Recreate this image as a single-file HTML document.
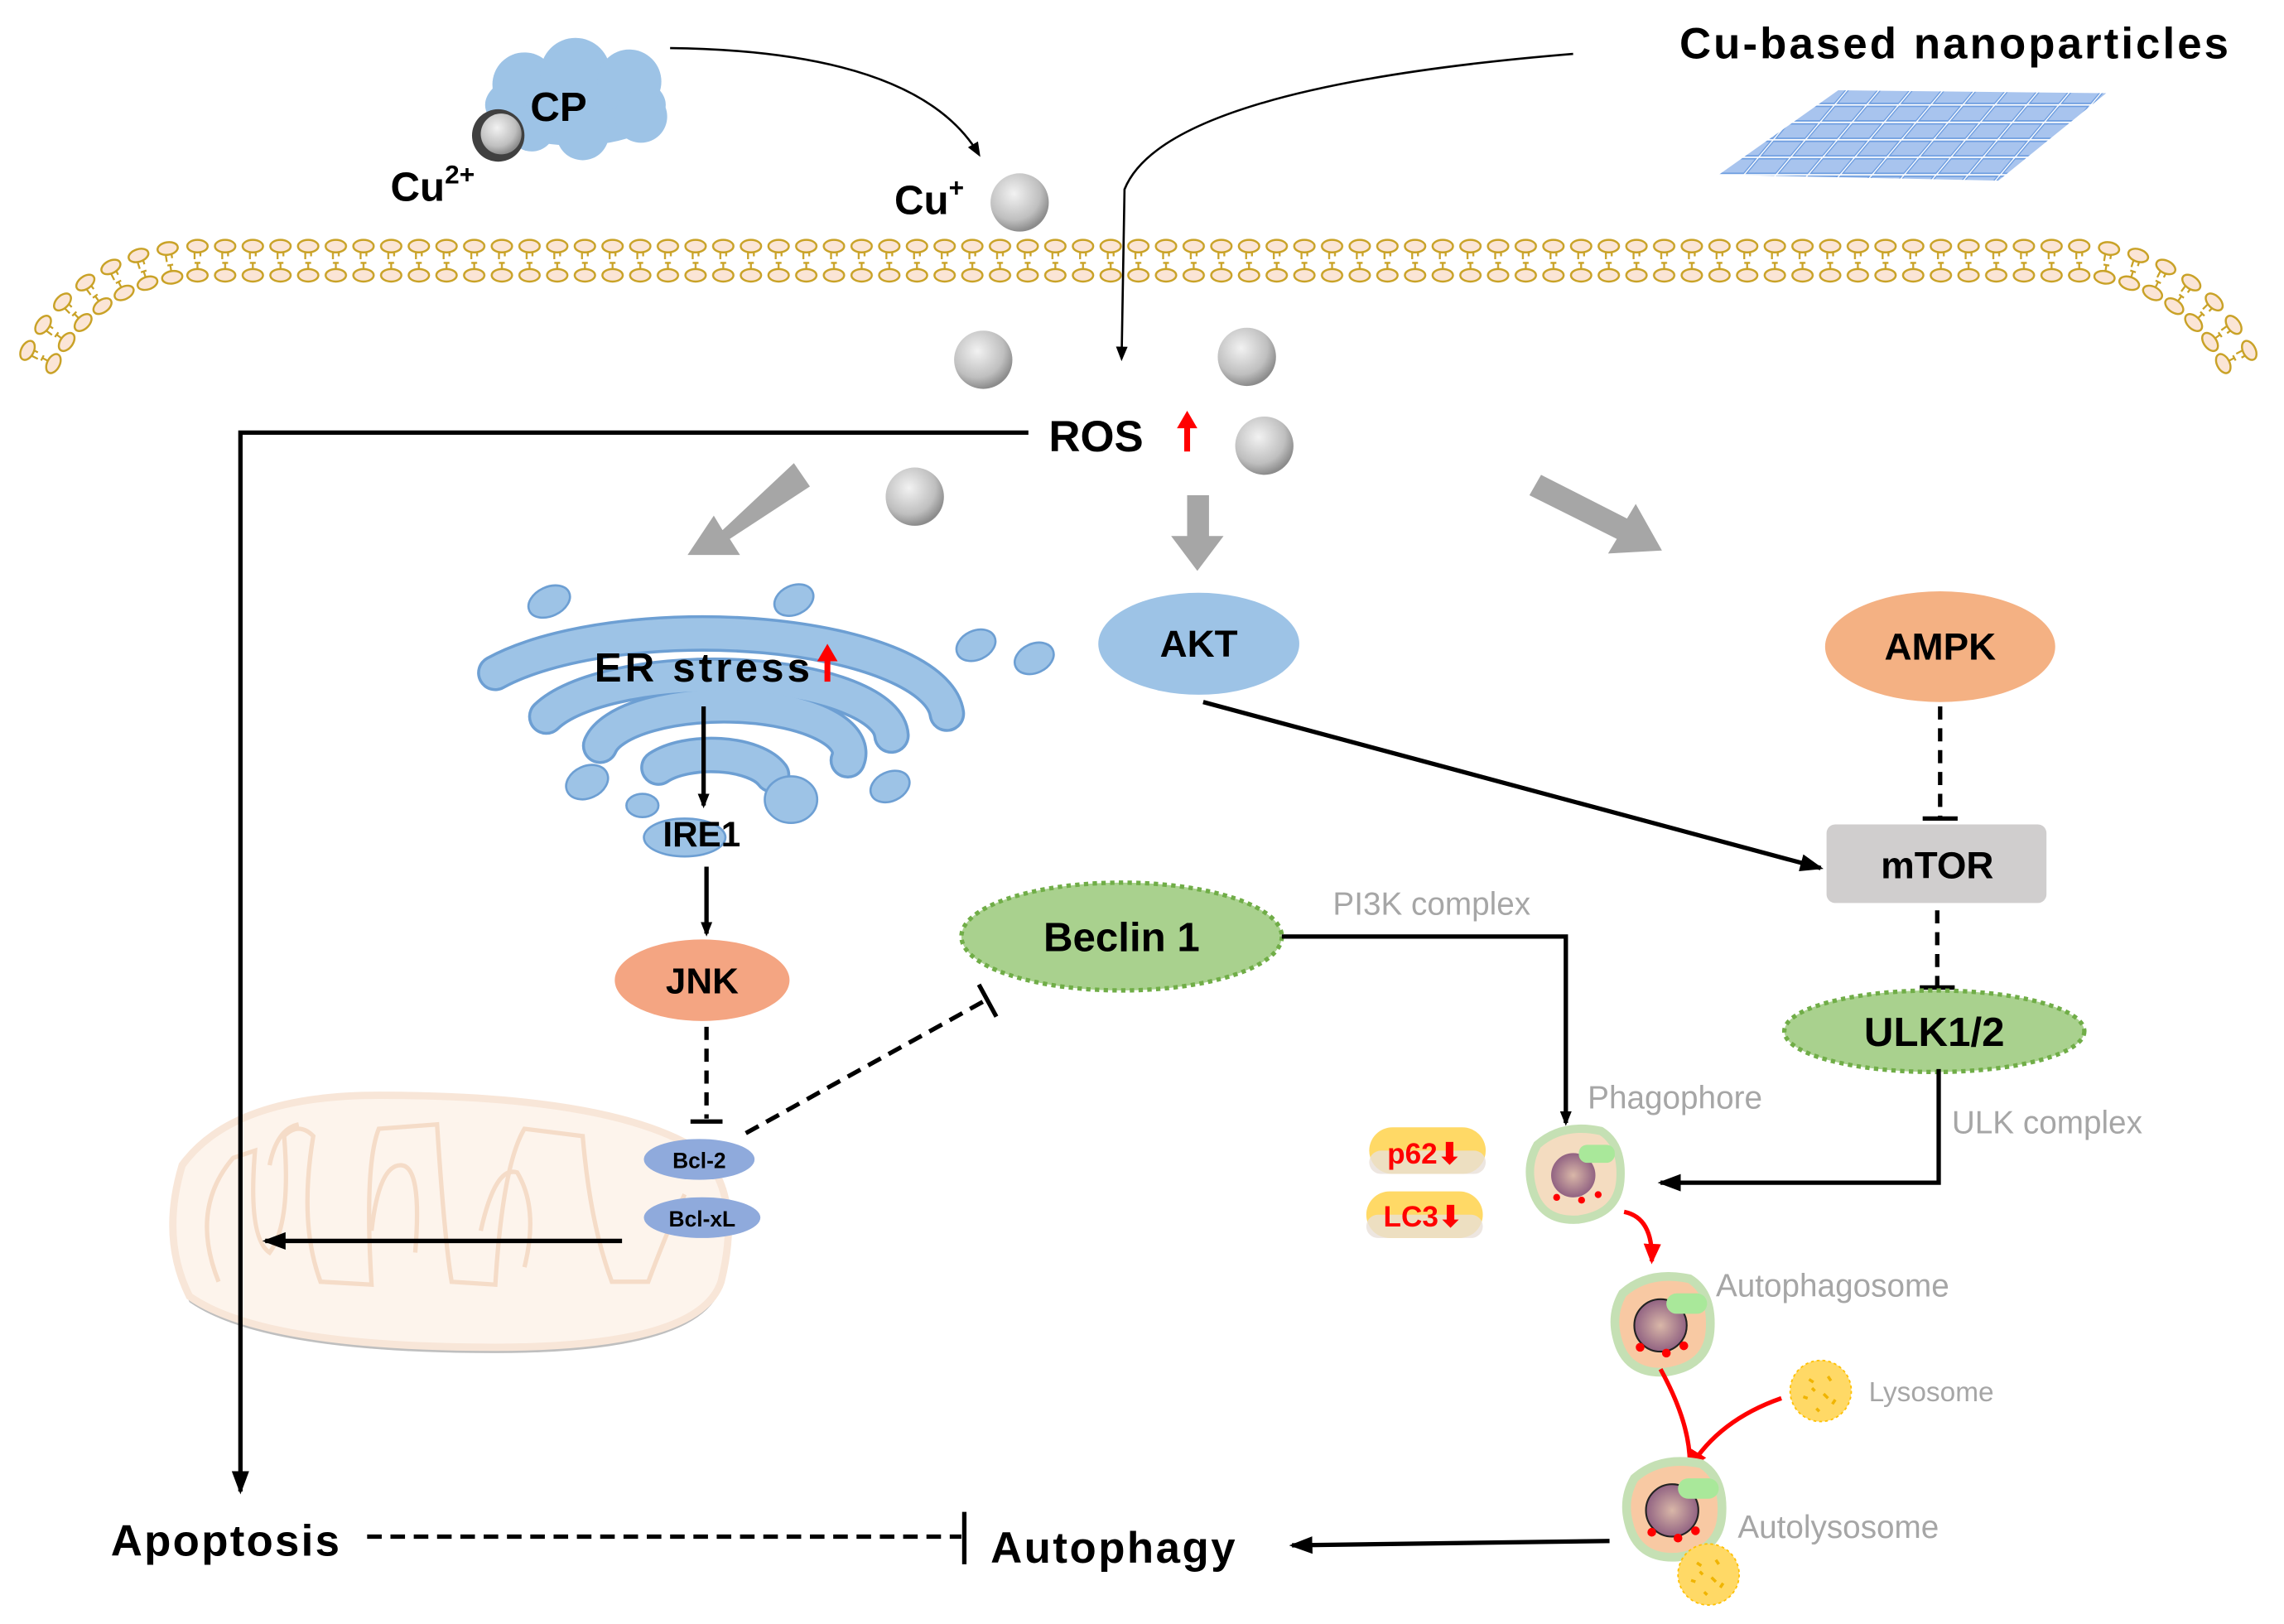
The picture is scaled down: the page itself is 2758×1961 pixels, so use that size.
<!DOCTYPE html>
<html><head><meta charset="utf-8"><style>
html,body{margin:0;padding:0;background:#fff}
svg{display:block}
text{font-family:"Liberation Sans",Arial,sans-serif}
.b{font-weight:bold;fill:#000}
.g{fill:#a6a6a6}
</style></head><body>
<svg width="2758" height="1961" viewBox="0 0 1568 1115" xmlns="http://www.w3.org/2000/svg">
<defs>
<marker id="ah" markerWidth="10" markerHeight="10" refX="8" refY="5" orient="auto" markerUnits="userSpaceOnUse" viewBox="0 0 10 10"><path d="M0,1 L10,5 L0,9 Z" fill="#000"/></marker>
<marker id="ahb" markerWidth="16" markerHeight="16" refX="14" refY="8" orient="auto" markerUnits="userSpaceOnUse" viewBox="0 0 16 16"><path d="M0,2 L16,8 L0,14 Z" fill="#000"/></marker>
<marker id="ahr" markerWidth="14" markerHeight="14" refX="12" refY="7" orient="auto" markerUnits="userSpaceOnUse" viewBox="0 0 14 14"><path d="M0,1 L14,7 L0,13 Z" fill="#f00"/></marker>
<g id="lip">
<ellipse cx="0" cy="-10" rx="7" ry="4.3" fill="#fbe5d6" stroke="#c9a227" stroke-width="1.4"/>
<ellipse cx="0" cy="10" rx="7" ry="4.3" fill="#fbe5d6" stroke="#c9a227" stroke-width="1.4"/>
<path d="M-2,-5.5 V-1 M2,-5.5 V-3 M-2,1.5 H2 M0,1.5 V5.5" stroke="#c9a227" stroke-width="1.3" fill="none"/>
</g>
<pattern id="mem" x="145" y="0" width="19" height="1115" patternUnits="userSpaceOnUse">
<use href="#lip" x="9.5" y="179"/>
</pattern>
<pattern id="hex" x="0" y="0" width="22" height="12" patternUnits="userSpaceOnUse" patternTransform="skewX(-40)">
<rect x="1" y="1" width="20" height="10" fill="#a8c4ee" stroke="#6d9de0" stroke-width="1"/>
</pattern>
<radialGradient id="sph" cx="40%" cy="35%" r="65%"><stop offset="0" stop-color="#f2f2f2"/><stop offset="0.7" stop-color="#bfbfbf"/><stop offset="1" stop-color="#8c8c8c"/></radialGradient>
<radialGradient id="nuc" cx="50%" cy="50%" r="55%"><stop offset="0" stop-color="#d9b7a8"/><stop offset="1" stop-color="#8a5a7e"/></radialGradient>
<g id="cell">
<path d="M-28,-20 Q-10,-36 18,-30 Q34,-20 32,6 Q30,30 2,34 Q-26,36 -32,10 Q-36,-6 -28,-20 Z" fill="#f8c9a3" stroke="#c5e0b4" stroke-width="6"/>
<circle cx="-2" cy="2" r="18" fill="url(#nuc)" stroke="#222" stroke-width="1.2"/>
<rect x="2" y="-20" width="28" height="14" rx="7" fill="#a9e89a"/>
<circle cx="-16" cy="17" r="3" fill="#f00"/><circle cx="2" cy="21" r="3" fill="#f00"/><circle cx="14" cy="16" r="3" fill="#f00"/>
</g>
<g id="lyso"><circle r="21" fill="#ffd966" stroke="#ffc000" stroke-width="1" stroke-dasharray="2 2"/>
<path d="M-8,-8 l3,2 M5,-10 l2,3 M-12,4 l3,1 M2,2 l3,3 M10,6 l-2,3 M-3,12 l2,2 M-6,-2 l2,2" stroke="#f0b400" stroke-width="2"/></g>
</defs>

<!-- membrane -->
<rect x="145" y="160" width="1276" height="40" fill="url(#mem)"/>
<g>
<use href="#lip" transform="translate(135.5,179)"/>
<use href="#lip" transform="translate(116.6,180.5) rotate(-9)"/>
<use href="#lip" transform="translate(98.1,184.9) rotate(-18)"/>
<use href="#lip" transform="translate(80.6,192.2) rotate(-27)"/>
<use href="#lip" transform="translate(64.4,202.1) rotate(-36)"/>
<use href="#lip" transform="translate(49.9,214.4) rotate(-45)"/>
<use href="#lip" transform="translate(37.6,228.9) rotate(-54)"/>
<use href="#lip" transform="translate(27.7,245.1) rotate(-63)"/>
<use href="#lip" transform="translate(1427.5,179)"/>
<use href="#lip" transform="translate(1446.4,180.5) rotate(9)"/>
<use href="#lip" transform="translate(1464.9,184.9) rotate(18)"/>
<use href="#lip" transform="translate(1482.4,192.2) rotate(27)"/>
<use href="#lip" transform="translate(1498.6,202.1) rotate(36)"/>
<use href="#lip" transform="translate(1513.1,214.4) rotate(45)"/>
<use href="#lip" transform="translate(1525.4,228.9) rotate(54)"/>
<use href="#lip" transform="translate(1535.3,245.1) rotate(63)"/>
</g>

<!-- CP cloud -->
<g fill="#9dc3e6">
<ellipse cx="395" cy="72" rx="62" ry="28"/>
<circle cx="360" cy="58" r="22"/><circle cx="395" cy="50" r="24"/><circle cx="432" cy="56" r="22"/>
<circle cx="440" cy="80" r="18"/><circle cx="400" cy="92" r="18"/><circle cx="365" cy="88" r="16"/>
</g>
<circle cx="342" cy="93" r="18" fill="#404040"/>
<circle cx="344" cy="92" r="14" fill="url(#sph)"/>
<text x="364" y="83" class="b" font-size="28">CP</text>
<text x="268" y="138" class="b" font-size="28">Cu<tspan font-size="18" dy="-12">2+</tspan></text>
<path d="M460,33 Q630,35 672,106" stroke="#000" stroke-width="1.5" fill="none" marker-end="url(#ah)"/>
<text x="614" y="147" class="b" font-size="28">Cu<tspan font-size="18" dy="-12">+</tspan></text>
<circle cx="700" cy="139" r="20" fill="url(#sph)"/>

<!-- nanoparticles -->
<text x="1153" y="40" class="b" font-size="30" textLength="377" lengthAdjust="spacing">Cu-based nanoparticles</text>
<polygon points="1180,120 1262,62 1446,64 1372,124" fill="url(#hex)"/>
<path d="M1080,37 Q800,60 772,130 L770,246" stroke="#000" stroke-width="1.5" fill="none" marker-end="url(#ah)"/>

<!-- spheres -->
<circle cx="675" cy="247" r="20" fill="url(#sph)"/>
<circle cx="856" cy="245" r="20" fill="url(#sph)"/>
<circle cx="868" cy="306" r="20" fill="url(#sph)"/>
<circle cx="628" cy="341" r="20" fill="url(#sph)"/>

<!-- mitochondrion -->
<path d="M125,804 Q160,756 260,756 Q420,756 480,794 Q510,824 495,884 Q480,929 340,929 Q180,929 130,894 Q110,854 125,804 Z" fill="#bfbfbf"/>
<path d="M125,800 Q160,752 260,752 Q420,752 480,790 Q510,820 495,880 Q480,925 340,925 Q180,925 130,890 Q110,850 125,800 Z" fill="#fdf4ec" stroke="#f8e6d8" stroke-width="5"/>
<path d="M150,880 Q130,830 160,795 L175,790 Q170,850 185,860 Q200,840 195,780 Q205,770 215,780 Q205,840 220,880 L255,882 Q250,800 260,775 L300,772 Q305,850 310,880 L340,882 Q345,800 360,775 L400,780 Q405,840 420,880 L445,880 Q460,840 470,820" stroke="#f5dcc8" stroke-width="3" fill="none"/>
<path d="M185,800 Q190,775 205,772 M255,845 Q260,800 275,800 Q290,800 285,860 M330,845 Q340,800 355,805 Q370,830 360,870" stroke="#f5dcc8" stroke-width="3" fill="none"/>

<!-- ROS -->
<text x="720" y="310" class="b" font-size="30">ROS</text>
<path d="M815,310 V292" stroke="#f00" stroke-width="4"/><path d="M808,294 L815,282 L822,294 Z" fill="#f00"/>
<path d="M706,297 H165 V1024" stroke="#000" stroke-width="3" fill="none" marker-end="url(#ahb)"/>

<!-- gray arrows -->
<g fill="#a6a6a6">
<polygon points="545,318 556,334 501,370 508,381 472,381 490,354 496,364"/>
<polygon points="815,340 830,340 830,368 840,368 822,392 804,368 815,368"/>
<polygon points="1050,340 1058,326 1117,356 1123,346 1141,378 1104,380 1110,370"/>
</g>

<!-- ER -->
<g fill="none" stroke-linecap="round">
<g stroke="#6d9fd3" stroke-width="25">
<path d="M340,462 A168,58 0 0 1 650,490"/>
<path d="M375,492 A122,42 0 0 1 612,505"/>
<path d="M412,512 A84,32 0 0 1 582,522"/>
<path d="M452,527 A44,20 0 0 1 530,532"/>
</g>
<g stroke="#9dc3e6" stroke-width="21">
<path d="M340,462 A168,58 0 0 1 650,490"/>
<path d="M375,492 A122,42 0 0 1 612,505"/>
<path d="M412,512 A84,32 0 0 1 582,522"/>
<path d="M452,527 A44,20 0 0 1 530,532"/>
</g>
</g>
<g fill="#9dc3e6" stroke="#6d9fd3" stroke-width="1.5">
<ellipse cx="377" cy="413" rx="15" ry="10" transform="rotate(-25 377 413)"/>
<ellipse cx="545" cy="412" rx="14" ry="10" transform="rotate(-25 545 412)"/>
<ellipse cx="670" cy="443" rx="14" ry="10" transform="rotate(-25 670 443)"/>
<ellipse cx="710" cy="452" rx="14" ry="10" transform="rotate(-25 710 452)"/>
<ellipse cx="403" cy="537" rx="15" ry="11" transform="rotate(-25 403 537)"/>
<ellipse cx="441" cy="553" rx="11" ry="8"/>
<ellipse cx="543" cy="549" rx="18" ry="16"/>
<ellipse cx="611" cy="540" rx="14" ry="10" transform="rotate(-25 611 540)"/>
<ellipse cx="470" cy="575" rx="28" ry="13"/>
</g>
<text x="408" y="468" class="b" font-size="28" textLength="148" lengthAdjust="spacing">ER stress</text>
<path d="M568,468 V452" stroke="#f00" stroke-width="4"/><path d="M561,454 L568,442 L575,454 Z" fill="#f00"/>
<path d="M483,485 V553" stroke="#000" stroke-width="3" marker-end="url(#ah)"/>
<text x="455" y="581" class="b" font-size="24">IRE1</text>
<path d="M485,595 V641" stroke="#000" stroke-width="3" marker-end="url(#ah)"/>
<ellipse cx="482" cy="673" rx="60" ry="28" fill="#f4a582"/>
<text x="482" y="682" class="b" font-size="25" text-anchor="middle">JNK</text>
<path d="M485,705 V768" stroke="#000" stroke-width="3" stroke-dasharray="9 6"/>
<path d="M474,770 H496" stroke="#000" stroke-width="3"/>

<ellipse cx="480" cy="796" rx="38" ry="14" fill="#8faadc"/>
<ellipse cx="482" cy="836" rx="40" ry="14" fill="#8faadc"/>
<text x="480" y="802" class="b" font-size="15" text-anchor="middle">Bcl-2</text>
<text x="482" y="842" class="b" font-size="15" text-anchor="middle">Bcl-xL</text>
<path d="M427,852 H182" stroke="#000" stroke-width="3" marker-end="url(#ahb)"/>
<path d="M512,778 L678,686" stroke="#000" stroke-width="3" stroke-dasharray="10 6"/>
<path d="M672,676 L684,698" stroke="#000" stroke-width="3"/>

<!-- Beclin -->
<ellipse cx="770" cy="643" rx="110" ry="37" fill="#a9d18e" stroke="#70ad47" stroke-width="3" stroke-dasharray="3 3"/>
<text x="770" y="653" class="b" font-size="28" text-anchor="middle">Beclin 1</text>
<text x="915" y="628" class="g" font-size="22">PI3K complex</text>
<path d="M880,643 H1075 V771" stroke="#000" stroke-width="3" fill="none" marker-end="url(#ah)"/>

<!-- AKT -->
<ellipse cx="823" cy="442" rx="69" ry="35" fill="#9dc3e6"/>
<text x="823" y="451" class="b" font-size="26" text-anchor="middle">AKT</text>
<path d="M826,482 L1250,596" stroke="#000" stroke-width="3" marker-end="url(#ahb)"/>

<!-- AMPK -->
<ellipse cx="1332" cy="444" rx="79" ry="38" fill="#f4b183"/>
<text x="1332" y="453" class="b" font-size="26" text-anchor="middle">AMPK</text>
<path d="M1332,485 V561" stroke="#000" stroke-width="3" stroke-dasharray="9 6"/>
<path d="M1320,562 H1344" stroke="#000" stroke-width="3"/>
<rect x="1254" y="566" width="151" height="54" rx="6" fill="#d0cece"/>
<text x="1330" y="603" class="b" font-size="26" text-anchor="middle" fill="#222">mTOR</text>
<path d="M1330,625 V677" stroke="#000" stroke-width="3" stroke-dasharray="9 6"/>
<path d="M1318,678 H1342" stroke="#000" stroke-width="3"/>
<ellipse cx="1328" cy="708" rx="103" ry="28" fill="#a9d18e" stroke="#70ad47" stroke-width="3" stroke-dasharray="3 3"/>
<text x="1328" y="718" class="b" font-size="28" text-anchor="middle">ULK1/2</text>
<path d="M1331,734 V812 H1140" stroke="#000" stroke-width="3" fill="none" marker-end="url(#ahb)"/>
<text x="1340" y="778" class="g" font-size="22">ULK complex</text>

<!-- autophagy cells -->
<text x="1090" y="761" class="g" font-size="22">Phagophore</text>
<g transform="translate(1082,805) scale(0.95)">
<path d="M-28,-20 Q-10,-36 18,-30 Q34,-20 32,6 Q30,30 2,34 Q-26,36 -32,10 Q-36,-6 -28,-20 Z" fill="#f4dcc0" stroke="#c5e0b4" stroke-width="6"/>
<circle cx="-2" cy="2" r="16" fill="url(#nuc)"/>
<rect x="2" y="-20" width="26" height="13" rx="6" fill="#a9e89a"/>
<circle cx="-14" cy="18" r="2.5" fill="#f00"/><circle cx="4" cy="20" r="2.5" fill="#f00"/><circle cx="16" cy="16" r="2.5" fill="#f00"/>
</g>
<path d="M1115,832 Q1135,836 1134,866" stroke="#f00" stroke-width="3" fill="none" marker-end="url(#ahr)"/>
<use href="#cell" transform="translate(1142,908)"/>
<text x="1178" y="890" class="g" font-size="22">Autophagosome</text>
<use href="#lyso" transform="translate(1250,955)"/>
<text x="1283" y="962" class="g" font-size="19">Lysosome</text>
<path d="M1140,940 Q1162,980 1160,1010" stroke="#f00" stroke-width="3" fill="none"/>
<path d="M1223,960 Q1180,975 1160,1008" stroke="#f00" stroke-width="3" fill="none" marker-end="url(#ahr)"/>
<use href="#cell" transform="translate(1150,1035)"/>
<use href="#lyso" transform="translate(1173,1081)"/>
<text x="1193" y="1056" class="g" font-size="22">Autolysosome</text>

<!-- p62 LC3 -->
<rect x="940" y="774" width="80" height="32" rx="16" fill="#ffd966"/>
<rect x="940" y="790" width="80" height="16" rx="8" fill="#e8e0d8" opacity="0.8"/>
<text x="978" y="799" font-size="20" font-weight="bold" fill="#f00" text-anchor="middle">p62⬇</text>
<rect x="938" y="818" width="80" height="32" rx="16" fill="#ffd966"/>
<rect x="938" y="834" width="80" height="16" rx="8" fill="#e8e0d8" opacity="0.8"/>
<text x="977" y="842" font-size="20" font-weight="bold" fill="#f00" text-anchor="middle">LC3⬇</text>

<!-- bottom -->
<text x="76" y="1068" class="b" font-size="30" textLength="157" lengthAdjust="spacing">Apoptosis</text>
<text x="680" y="1073" class="b" font-size="30" textLength="168" lengthAdjust="spacing">Autophagy</text>
<path d="M252,1055 H660" stroke="#000" stroke-width="3" stroke-dasharray="10 6"/>
<path d="M662,1038 V1074" stroke="#000" stroke-width="3"/>
<path d="M1105,1058 L887,1061" stroke="#000" stroke-width="3" marker-end="url(#ahb)"/>
</svg>
</body></html>
